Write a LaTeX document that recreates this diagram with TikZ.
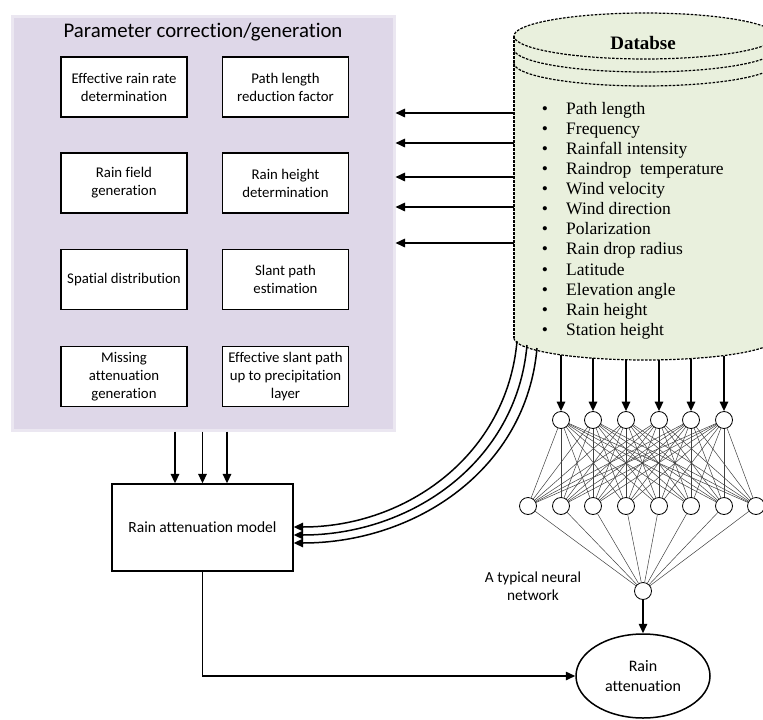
\documentclass[tikz,border=0pt]{standalone}
\usepackage{fontspec}
\setmainfont{Liberation Serif}
\newfontfamily\calibri[Ligatures=NoCommon]{Carlito}
\usetikzlibrary{arrows.meta,shapes.geometric}
\definecolor{paramfill}{RGB}{222,215,232}
\definecolor{paramedge}{RGB}{235,231,241}
\definecolor{dbfill}{RGB}{233,240,221}
\tikzset{
  arr/.style={line width=1.5pt,-{Triangle[length=9.5pt,width=8.5pt]}},
  box/.style={draw,line width=1.3pt,fill=white,align=center,inner sep=2pt,
              font=\calibri\fontsize{14.8}{18}\selectfont},
  parambox/.style={box,minimum width=126pt,minimum height=60pt},
  dbline/.style={line width=1.2pt,dash pattern=on 2.6pt off 1.4pt},
  dbitem/.style={anchor=mid west,inner sep=0pt,font=\fontsize{17.5}{19}\selectfont},
  neuron/.style={circle,draw,line width=0.8pt,fill=white,minimum size=17pt,inner sep=0pt},
  syn/.style={line width=0.5pt,black!75},
}

\begin{document}
\begin{tikzpicture}[x=1pt,y=-1pt]
   \useasboundingbox (0,0) rectangle (763,720);
   \node[draw=paramedge,line width=3pt,fill=paramfill,minimum width=382pt,minimum height=414pt] (panel) at (203,223) {};
   \node[font=\calibri\fontsize{20.8}{24}\selectfont] (ptitle) at (203,32) {Parameter correction/generation};
   \node[parambox] (effrate) at (124,87)    {Effective rain rate\\determination};
   \node[parambox] (pathred) at (285.5,87)  {Path length\\reduction factor};
   \node[parambox] (rfield)  at (124,183)   {Rain field\\generation};
   \node[parambox] (rheight) at (285.5,183) {Rain height\\determination};
   \node[parambox] (spatial) at (124,279.5) {Spatial distribution};
   \node[parambox] (slant)   at (285.5,279.5) {Slant path\\estimation};
   \node[parambox] (missing) at (124,376.5) {Missing\\attenuation\\generation};
   \node[parambox] (effslant) at (285.5,376.5) {Effective slant path\\up to precipitation\\layer};

   \begin{scope}
   \clip (0,0) rectangle (763,720);
   \fill[dbfill] (514,36) -- (514,338)
      -- plot[domain=180:360,samples=60,variable=\t] ({645+131*cos(\t)},{338-22*sin(\t)})
      -- (776,36)
      -- plot[domain=0:180,samples=60,variable=\t] ({645+131*cos(\t)},{36-23*sin(\t)}) -- cycle;
   \draw[dbline] (514,36) -- (514,338);
   \draw[dbline] plot[domain=180:360,samples=60,variable=\t] ({645+131*cos(\t)},{338-22*sin(\t)});
   \draw[dbline] plot[domain=0:360,samples=90,variable=\t] ({645+131*cos(\t)},{36-23*sin(\t)});
   \foreach \dy in {13,27}
     \draw[dbline] plot[domain=180:360,samples=60,variable=\t] ({645+131*cos(\t)},{36+\dy-23*sin(\t)});
   \end{scope}
   \node[font=\bfseries\fontsize{19}{21}\selectfont] (dbtitle) at (643,43) {Databse};
   \foreach \param [count=\i] in {Path length,Frequency,Rainfall intensity,Raindrop\ \ temperature,
       Wind velocity,Wind direction,Polarization,Rain drop radius,Latitude,Elevation angle,
       Rain height,Station height} {
     \node[dbitem] (item\i) at (566,{91.9+20.1*\i}) {\param};
     \node[dbitem,anchor=mid] (bul\i) at (545,{91.9+20.1*\i}) {\textbullet};
   }

   \foreach \y [count=\k] in {113,143,177,207,243} {
     \coordinate (dbout\k) at (514,\y);
     \draw[arr] (dbout\k) -- (dbout\k -| panel.east);
   }

   \node[box,minimum width=181pt,minimum height=87pt,font=\calibri\fontsize{15.5}{18}\selectfont] (model) at (202.5,527.5) {Rain attenuation model};
   \foreach \dx in {-27.5,0,24.5}
     \draw[arr] ([xshift=\dx pt]model.north |- panel.south) -- ([xshift=\dx pt]model.north);

   \coordinate (tapL1) at (517,341);
   \coordinate (tapL2) at (527,345);
   \coordinate (tapL3) at (537,348);
   \draw[arr] (tapL1) to[out=-95,in=0] ([yshift=0.5pt]model.east);
   \draw[arr] (tapL2) to[out=-95,in=0] ([yshift=-7.5pt]model.east);
   \draw[arr] (tapL3) to[out=-95,in=0] ([yshift=-15.5pt]model.east);

   \foreach \x [count=\i] in {561,593,626,659,691,724}
     \node[neuron] (in\i) at (\x,420) {};
   \foreach \x [count=\j] in {528,561,593,626,659,691,724,756}
     \node[neuron] (hid\j) at (\x,506) {};
   \node[neuron] (out) at (643,591) {};
   \foreach \i in {1,...,6}
     \foreach \j in {1,...,8}
       \draw[syn] (in\i) -- (hid\j);
   \foreach \j in {1,...,8}
     \draw[syn] (hid\j) -- (out);
   \foreach \x/\y [count=\i] in {561/354.9,593/358.2,626/359.8,659/359.9,691/358.6,724/355.5} {
     \coordinate (tap\i) at (\x,\y);
     \draw[arr] (tap\i) -- (in\i);
   }
   \node[align=center,font=\calibri\fontsize{15.3}{18}\selectfont] (nnlabel) at (533,586) {A typical neural\\network};

   \node[ellipse,draw,line width=1.5pt,minimum width=134pt,minimum height=84pt,align=center,
         font=\calibri\fontsize{16}{20}\selectfont] (rainatt) at (643,676) {Rain\\attenuation};
   \draw[arr] (out) -- (rainatt);
   \draw[arr] (model.south) |- (rainatt.west);
\end{tikzpicture}
\end{document}
